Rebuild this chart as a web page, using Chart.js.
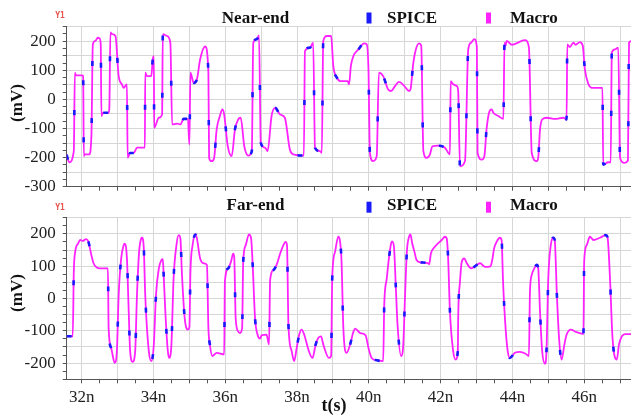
<!DOCTYPE html>
<html>
<head>
<meta charset="utf-8">
<script src="https://cdn.jsdelivr.net/npm/chart.js@4.4.1/dist/chart.umd.min.js"></script>
<style>
  html, body { margin: 0; padding: 0; background: #fff; }
  #wrap { position: relative; width: 631px; height: 416px; overflow: hidden; }
  #nearCanvas { position: absolute; left: 0; top: 0; }
  #farCanvas { position: absolute; left: 0; top: 193px; }
</style>
</head>
<body>
<div id="wrap">
  <canvas id="nearCanvas" width="631" height="193"></canvas>
  <canvas id="farCanvas" width="631" height="223"></canvas>
</div>
<script>
// Time axis (ns) and waveform samples (mV)
const nearTime = [31.58,31.65,31.78,31.81,31.84,32.01,32.04,32.06,32.09,32.21,32.27,32.31,32.38,32.45,32.50,32.53,32.55,32.59,32.75,32.77,32.80,32.84,32.94,33.03,33.12,33.17,33.26,33.28,33.35,33.45,33.54,33.76,33.77,33.82,33.94,33.98,34.01,34.02,34.15,34.24,34.26,34.38,34.47,34.52,34.66,34.75,34.84,34.96,35.00,35.03,35.12,35.21,35.30,35.44,35.53,35.55,35.62,35.69,35.76,35.85,35.92,35.97,36.07,36.18,36.27,36.36,36.43,36.53,36.64,36.74,36.78,36.88,36.94,36.99,37.11,37.18,37.29,37.39,37.53,37.66,37.80,37.90,38.19,38.22,38.36,38.45,38.50,38.64,38.69,38.73,38.83,38.95,39.01,39.11,39.20,39.41,39.45,39.50,39.57,39.71,39.87,39.94,39.99,40.03,40.12,40.22,40.28,40.40,40.54,40.62,40.73,40.84,40.99,41.12,41.16,41.24,41.31,41.40,41.46,41.52,41.61,41.70,41.77,41.94,42.12,42.26,42.28,42.35,42.45,42.49,42.54,42.68,42.77,42.85,42.94,43.01,43.03,43.15,43.22,43.28,43.35,43.42,43.47,43.61,43.75,43.78,43.81,43.84,43.99,44.35,44.46,44.54,44.68,44.72,44.77,44.83,44.96,45.19,45.42,45.51,45.53,45.60,45.70,45.76,45.88,45.96,46.02,46.12,46.21,46.51,46.53,46.67,46.74,46.77,46.86,46.95,47.00,47.12,47.22,47.25,47.31];
const nearMv = [-190,-216,-178,92,83,83,80,-195,-189,-189,-126,189,201,212,210,189,-57,-46,-46,-29,230,225,218,80,52,40,52,-201,-184,-184,-166,-166,92,80,80,138,149,-98,-63,-52,224,218,195,-86,-83,-86,-67,-67,-155,92,57,69,138,182,92,-201,-212,-201,-103,-57,-34,-52,-161,-195,-103,-69,-63,-161,-193,-178,195,207,220,-149,-166,-178,-57,-29,-52,-63,-172,-189,-193,166,178,195,-166,-178,-184,201,218,218,115,75,63,63,52,115,149,172,193,190,103,-184,-212,-195,92,80,34,29,46,60,46,29,34,126,172,193,185,-178,-201,-190,-161,-159,-166,-189,63,52,46,29,-230,-212,172,195,207,180,-184,-207,-195,-103,-46,-34,-46,-57,-67,195,184,201,188,204,180,-184,-212,-201,-103,-69,-63,-67,-63,-69,189,180,195,188,197,185,103,52,40,40,-224,-216,-216,161,172,178,-201,-218,-210,195,200];

const farTime = [31.58,31.75,31.78,31.82,31.90,31.96,32.03,32.12,32.18,32.27,32.33,32.40,32.51,32.73,32.75,32.82,32.92,32.98,33.03,33.10,33.17,33.20,33.26,33.31,33.35,33.42,33.49,33.54,33.60,33.66,33.68,33.73,33.77,33.87,33.94,34.01,34.07,34.15,34.22,34.26,34.28,34.33,34.40,34.44,34.50,34.56,34.64,34.70,34.75,34.79,34.87,34.96,35.00,35.03,35.09,35.17,35.21,35.30,35.40,35.49,35.53,35.57,35.64,35.76,35.97,35.99,36.08,36.16,36.22,36.25,36.29,36.36,36.41,36.47,36.50,36.57,36.66,36.72,36.76,36.83,36.90,36.97,37.01,37.15,37.22,37.25,37.34,37.43,37.53,37.62,37.68,37.72,37.76,37.85,37.92,37.99,38.06,38.13,38.20,38.33,38.43,38.52,38.59,38.67,38.73,38.89,38.95,38.98,39.06,39.15,39.20,39.24,39.29,39.38,39.48,39.56,39.62,39.76,39.91,39.99,40.08,40.22,40.40,40.43,40.50,40.56,40.62,40.65,40.70,40.75,40.80,40.90,40.96,41.01,41.06,41.12,41.16,41.21,41.27,41.33,41.43,41.66,41.68,41.73,41.84,42.03,42.12,42.17,42.21,42.26,42.35,42.42,42.48,42.49,42.54,42.59,42.66,42.73,42.85,43.01,43.10,43.24,43.32,43.39,43.44,43.49,43.56,43.65,43.70,43.74,43.81,43.87,43.93,44.07,44.21,44.37,44.46,44.49,44.54,44.61,44.68,44.72,44.77,44.83,44.91,44.95,45.00,45.07,45.14,45.18,45.24,45.30,45.37,45.45,45.51,45.63,45.74,45.88,45.98,46.00,46.07,46.16,46.26,46.44,46.60,46.65,46.72,46.79,46.91,46.97,47.05,47.14,47.31];
const farMv = [-117,-117,83,145,170,181,178,184,178,134,109,98,93,93,-91,-153,-199,-163,11,124,165,170,124,-40,-163,-196,-163,11,145,186,188,155,11,-163,-194,-142,11,93,119,122,83,-40,-163,-184,-142,62,165,196,186,83,-61,-96,-90,83,165,198,186,124,109,104,-91,-142,-178,-168,-173,52,93,114,139,128,-61,-102,-107,-91,114,165,198,186,114,-61,-112,-124,-114,-112,-142,57,88,104,139,165,175,165,-81,-163,-194,-153,-112,-96,-112,-163,-184,-142,-122,-117,-142,-184,-178,62,145,191,175,114,-91,-168,-142,-107,-93,-107,-114,-153,-184,-191,-194,-19,62,124,170,177,160,42,-81,-178,-142,11,145,191,198,170,145,119,112,109,106,139,160,181,191,186,124,-40,-163,-189,-163,-61,52,114,124,109,93,104,109,98,98,100,120,155,175,188,180,52,-91,-163,-184,-168,-165,-171,-178,22,73,93,104,93,-40,-163,-202,-163,62,165,188,180,11,-122,-189,-142,-112,-96,-102,-107,-110,114,165,191,181,188,196,190,62,-122,-189,-142,-117,-110,-110];

// Axis ticks
const xLabelTicks = [32, 34, 36, 38, 40, 42, 44, 46];
const yLabelStep = 100;

const X_MIN = 31.582, X_MAX = 47.305;
const SERIF = '"Liberation Serif", "Times New Roman", Times, serif';
const SPICE_COLOR = '#1a1aff';
const MACRO_COLOR = '#ff22ff';
const GRID = '#d6d6d6';
const AXIS = '#555555';

const near = (v, step) => Math.abs(v / step - Math.round(v / step)) < 1e-6;
const toPoints = (ts, vs) => ts.map((t, i) => ({ x: t, y: vs[i] }));

function headerPlugin(cfg) {
  return {
    id: 'header',
    afterDraw(chart) {
      const ctx = chart.ctx;
      ctx.save();
      ctx.textBaseline = 'alphabetic';
      ctx.font = 'bold 17px ' + SERIF;
      ctx.fillStyle = '#111';
      ctx.textAlign = 'center';
      ctx.fillText(cfg.title, 255.5, cfg.base);
      ctx.textAlign = 'left';
      ctx.fillStyle = SPICE_COLOR;
      ctx.fillRect(366.5, cfg.markTop, 5, 11);
      ctx.fillStyle = '#111';
      ctx.fillText('SPICE', 387, cfg.base);
      ctx.fillStyle = MACRO_COLOR;
      ctx.fillRect(486, cfg.markTop, 5, 11);
      ctx.fillStyle = '#111';
      ctx.fillText('Macro', 510, cfg.base);

      ctx.font = 'bold 8px "DejaVu Sans Mono", monospace';
      ctx.fillStyle = '#e5524b';
      ctx.textAlign = 'center';
      ctx.textBaseline = 'middle';
      ctx.fillText('Y1', 60, cfg.y1);

      ctx.save();
      ctx.translate(18, cfg.mvY);
      ctx.rotate(-Math.PI / 2);
      ctx.font = 'bold 17px ' + SERIF;
      ctx.fillStyle = '#111';
      ctx.fillText('(mV)', 0, 0);
      ctx.restore();

      if (cfg.xTitleY) {
        ctx.font = 'bold 18px ' + SERIF;
        ctx.fillStyle = '#111';
        ctx.fillText('t(s)', 334, cfg.xTitleY);
      }
      ctx.restore();
    }
  };
}

function makeChart(id, ts, vs, cfg) {
  const pts = toPoints(ts, vs);
  return new Chart(document.getElementById(id), {
    type: 'line',
    data: {
      datasets: [
        { label: 'SPICE', data: pts, borderColor: SPICE_COLOR, borderWidth: 2.6,
          borderDash: [5, 52], order: 0, pointRadius: 0, cubicInterpolationMode: 'monotone' },
        { label: 'Macro', data: pts, borderColor: MACRO_COLOR, borderWidth: 1.8,
          order: 1, pointRadius: 0, cubicInterpolationMode: 'monotone' }
      ]
    },
    options: {
      responsive: false,
      animation: false,
      layout: { autoPadding: false, padding: { top: cfg.padTop, left: 0, right: 0, bottom: 0 } },
      plugins: { legend: { display: false }, tooltip: { enabled: false }, title: { display: false } },
      scales: {
        x: {
          type: 'linear', min: X_MIN, max: X_MAX,
          afterFit(s) { s.height = cfg.xHeight; s.paddingLeft = 0; s.paddingRight = 0; },
          border: { color: AXIS, width: 1 },
          grid: {
            color: c => near(c.tick.value, 1) ? GRID : 'rgba(0,0,0,0)',
            tickColor: c => near(c.tick.value, 0.5) ? AXIS : 'rgba(0,0,0,0)',
            tickLength: 4, lineWidth: 1
          },
          ticks: {
            stepSize: 0.5, includeBounds: false, autoSkip: false, maxRotation: 0, padding: 4,
            color: '#222', font: { family: SERIF, size: 17 },
            callback: v => (cfg.xLabels && xLabelTicks.some(t => Math.abs(t - v) < 1e-6)) ? Math.round(v) + 'n' : ''
          }
        },
        y: {
          min: cfg.yMin, max: cfg.yMax,
          afterFit(s) { s.width = 66.7; s.paddingTop = 0; s.paddingBottom = 0; },
          border: { color: AXIS, width: 1 },
          grid: {
            color: c => near(c.tick.value, 50) ? GRID : 'rgba(0,0,0,0)',
            tickColor: AXIS, tickLength: 4, lineWidth: 1
          },
          ticks: {
            stepSize: 25, autoSkip: false, padding: 7,
            color: '#222', font: { family: SERIF, size: 17 },
            callback: v => near(v, yLabelStep) ? String(Math.round(v)) : ''
          }
        }
      }
    },
    plugins: [headerPlugin(cfg)]
  });
}

makeChart('nearCanvas', nearTime, nearMv, {
  title: 'Near-end', padTop: 26.7, xHeight: 6.3, xLabels: false,
  yMin: -300, yMax: 250, base: 22.5, markTop: 12.5, y1: 15.5, mvY: 103
});

makeChart('farCanvas', farTime, farMv, {
  title: 'Far-end', padTop: 24.7, xHeight: 36.7, xLabels: true,
  yMin: -250, yMax: 250, base: 16.5, markTop: 8.7, y1: 14.5, mvY: 100, xTitleY: 213
});
</script>
</body>
</html>
